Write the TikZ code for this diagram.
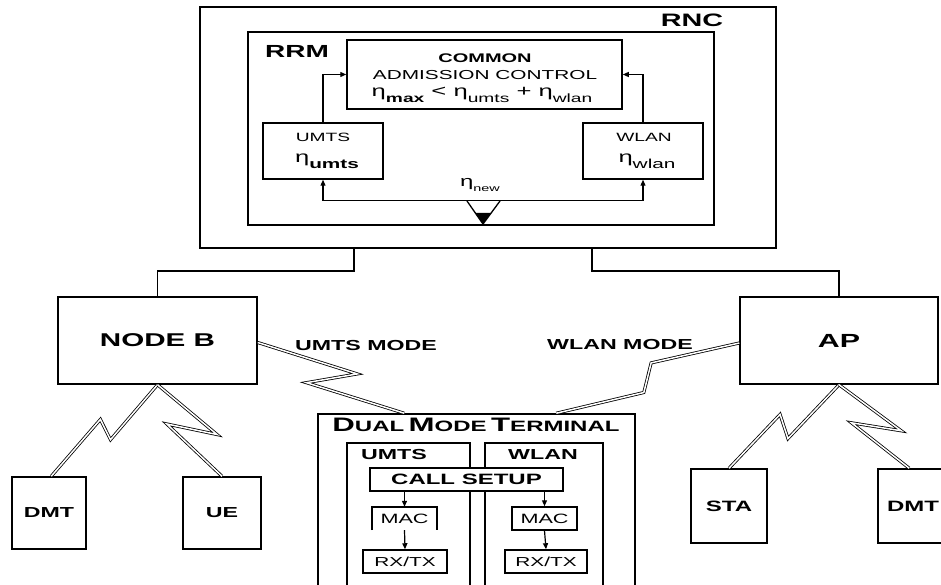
\documentclass[tikz,border=0pt]{standalone}
\usepackage{fontspec}
\setmainfont{Liberation Sans}[FakeStretch=1.6]
\usetikzlibrary{calc,arrows.meta}
\newcommand{\fsz}[1]{\fontsize{#1}{#1}\selectfont}
\newcommand{\sub}[1]{\raisebox{-0.35em}{#1}}
\newcommand{\zap}[6]{\draw[bolt] (#1) -- ($(#1)!#3!(#2)!#4!90:(#2)$) -- ($(#1)!#5!(#2)!#6!90:(#2)$) -- (#2);}
\begin{document}
\begin{tikzpicture}[x=1pt,y=-1pt,
  box/.style={draw,line width=1.5pt,inner sep=0pt},
  bigbox/.style={draw,line width=2pt,inner sep=0pt},
  arr/.style={line width=1.2pt,-{Triangle[length=6pt,width=5pt]}},
  bolt/.style={line width=0.8pt,double,double distance=1.5pt,line join=miter},
  lbl/.style={inner sep=0pt}]
\useasboundingbox (0,0) rectangle (941,585);
\clip (0,0) rectangle (941,585);
\fill[white] (0,0) rectangle (941,585);

% RNC and RRM
\node[bigbox,minimum width=576pt,minimum height=241pt] (rnc) at (488,127.5) {};
\node[bigbox,minimum width=466pt,minimum height=193pt] (rrm) at (481,128.5) {};
\node[lbl,font=\bfseries\fsz{18}] (rnclbl) at (692,20) {RNC};
\node[lbl,font=\bfseries\fsz{17.5}] (rrmlbl) at (297,51) {RRM};

\node[box,minimum width=275pt,minimum height=69pt] (cac) at (484.5,74.5) {};
\node[lbl,font=\bfseries\fsz{12.5}] (cac1) at (485,58) {COMMON};
\node[lbl,font=\fsz{13}] (cac2) at (485,75) {ADMISSION CONTROL};
\node[lbl,font=\fsz{16}] (cac3) at (482,95) {η\sub{\bfseries\fsz{12}max} < η\sub{\fsz{12}umts} + η\sub{\fsz{12}wlan}};

\node[box,minimum width=120pt,minimum height=56pt] (umtsr) at (323,151) {};
\node[lbl,font=\fsz{12}] (umtsr1) at (323,137) {UMTS};
\node[lbl,font=\fsz{16}] (umtsr2) at (327,161) {η\sub{\bfseries\fsz{13}umts}};
\node[box,minimum width=120pt,minimum height=56pt] (wlanr) at (643,151) {};
\node[lbl,font=\fsz{12}] (wlanr1) at (644,137) {WLAN};
\node[lbl,font=\fsz{16}] (wlanr2) at (647,161) {η\sub{\fsz{13}wlan}};

\draw[arr] (umtsr.north) |- (cac.west);
\draw[arr] (wlanr.north) |- (cac.east);
\coordinate (bl) at ($(umtsr.south)+(0,21)$);
\coordinate (br) at (bl -| wlanr.south);
\draw[line width=1.2pt] (bl) -- (br);
\draw[arr] (bl) -- (umtsr.south);
\draw[arr] (br) -- (wlanr.south);
\node[lbl,font=\fsz{15}] (eta) at (480,185) {η\sub{\fsz{9}new}};
\coordinate (va) at (467,201);
\coordinate (vb) at (500,201);
\coordinate (vt) at (483,224);
\draw[line width=1.3pt] (va) -- (vt) -- (vb);
\fill ($(vt)+(-8,-11)$) -- (vt) -- ($(vt)+(8,-11)$) -- cycle;

% base stations
\node[box,minimum width=199pt,minimum height=87pt,font=\bfseries\fsz{18.5}] (nodeb) at (157.5,340.5) {NODE B};
\node[box,minimum width=198pt,minimum height=87pt,font=\bfseries\fsz{19}] (ap) at (839,340.5) {AP};
\draw[line width=1.5pt] ([xshift=155pt]rnc.south west) -- ++(0,22) -| (nodeb.north);
\draw[line width=1.5pt] ([xshift=393pt]rnc.south west) -- ++(0,22) -| (ap.north);

% terminals
\node[box,minimum width=74pt,minimum height=72pt,font=\bfseries\fsz{14.5}] (dmt1) at (49,513) {DMT};
\node[box,minimum width=78pt,minimum height=72pt,font=\bfseries\fsz{14.5}] (ue) at (222,513) {UE};
\node[box,minimum width=76pt,minimum height=74pt,font=\bfseries\fsz{15}] (sta) at (729,506) {STA};
\node[box,minimum width=70pt,minimum height=74pt,font=\bfseries\fsz{15}] (dmt2) at (913,506) {DMT};

% dual mode terminal
\node[box,minimum width=317pt,minimum height=186pt] (term) at (476.5,507) {};
\node[lbl] (termlbl) at (476,425) {\bfseries{\fsz{19.5}D}{\fsz{15}UAL} {\fsz{19.5}M}{\fsz{15}ODE} {\fsz{19.5}T}{\fsz{15}ERMINAL}};
\node[box,minimum width=123pt,minimum height=157pt] (umtsi) at (408.5,521.5) {};
\node[box,minimum width=118pt,minimum height=157pt] (wlani) at (544,521.5) {};
\node[lbl,font=\bfseries\fsz{14.5}] (umtsil) at (394,455) {UMTS};
\node[lbl,font=\bfseries\fsz{14.5}] (wlanil) at (543,455) {WLAN};
\node[box,fill=white,minimum width=193pt,minimum height=23pt,font=\bfseries\fsz{15}] (call) at (466.5,479.5) {CALL SETUP};
\node[minimum width=65pt,minimum height=23pt,inner sep=0pt,font=\fsz{13.5}] (macu) at (404.5,518.5) {MAC};
\draw[line width=1.5pt] (macu.south west) -- (macu.north west) -- (macu.north east) -- (macu.south east);
\node[box,minimum width=84pt,minimum height=23pt,font=\fsz{13}] (rxu) at (405,561.5) {RX/TX};
\node[box,minimum width=65pt,minimum height=23pt,font=\fsz{13.5}] (macw) at (544.5,518.5) {MAC};
\node[box,minimum width=82pt,minimum height=23pt,font=\fsz{13}] (rxw) at (546,561.5) {RX/TX};
\draw[arr] (call.south -| macu.north) -- (macu.north);
\draw[arr] (macu.south) -- (rxu.north);
\draw[arr] (call.south -| macw.north) -- (macw.north);
\draw[arr] (macw.south) -- (rxw.north);

% radio links
\coordinate (tU) at ($(term.north west)+(87,0)$);
\coordinate (tW) at ($(term.north west)+(239,0)$);
\coordinate (nbE) at ($(nodeb.east)+(0,2)$);
\coordinate (apW) at ($(ap.west)+(0,2.5)$);
\coordinate (d1) at ($(dmt1.north west)+(40,0)$);
\coordinate (d2) at ($(dmt2.north west)+(32,0)$);
\zap{nbE}{tU}{0.635}{15pt}{0.377}{-15pt}
\zap{apW}{tW}{0.456}{-13pt}{0.545}{12pt}
\zap{nodeb.south}{d1}{0.51}{11pt}{0.47}{-11pt}
\zap{nodeb.south}{ue.north}{0.67}{20pt}{0.334}{-15pt}
\zap{ap.south}{sta.north}{0.53}{12pt}{0.47}{-12pt}
\zap{ap.south}{d2}{0.69}{18pt}{0.34}{-15pt}
\node[lbl,font=\bfseries\fsz{14.5}] (umode) at (366,346) {UMTS MODE};
\node[lbl,font=\bfseries\fsz{14.5}] (wmode) at (620,345) {WLAN MODE};
\end{tikzpicture}
\end{document}
